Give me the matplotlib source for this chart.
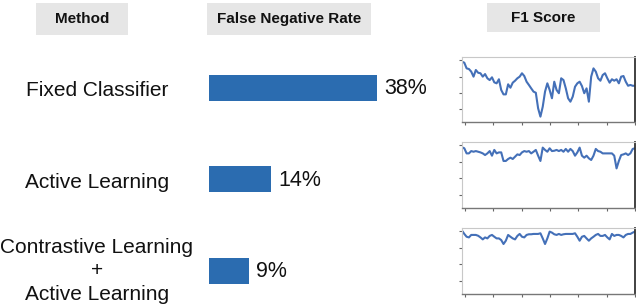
import numpy as np
import matplotlib
matplotlib.use("Agg")
import matplotlib.pyplot as plt
import matplotlib.transforms as mtransforms
from matplotlib.patches import Rectangle

plt.rcParams['font.family'] = ['Liberation Sans', 'DejaVu Sans']

W, H = 636, 306

# data
methods = ["Fixed Classifier", "Active Learning", "Contrastive Learning\n+\nActive Learning"]
fnr = [38, 14, 9]
headers = ["Method", "False Negative Rate", "F1 Score"]

f1_fixed = [0.971, 0.965, 0.930, 0.926, 0.910, 0.879, 0.920, 0.903, 0.900, 0.879,
            0.895, 0.869, 0.858, 0.875, 0.844, 0.838, 0.863, 0.797, 0.770, 0.770,
            0.832, 0.811, 0.842, 0.854, 0.869, 0.879, 0.900, 0.883, 0.848, 0.828,
            0.807, 0.787, 0.780, 0.684, 0.633, 0.694, 0.787, 0.838, 0.797, 0.746,
            0.848, 0.797, 0.777, 0.869, 0.858, 0.807, 0.746, 0.725, 0.756, 0.817,
            0.838, 0.848, 0.821, 0.777, 0.807, 0.725, 0.879, 0.930, 0.910, 0.869,
            0.854, 0.889, 0.900, 0.869, 0.842, 0.863, 0.854, 0.863, 0.838, 0.879,
            0.883, 0.848, 0.823, 0.828, 0.823, 0.823]
f1_active = [0.968, 0.962, 0.931, 0.931, 0.945, 0.941, 0.945, 0.941, 0.937, 0.931,
             0.921, 0.931, 0.945, 0.917, 0.952, 0.931, 0.937, 0.937, 0.885, 0.885,
             0.897, 0.905, 0.897, 0.911, 0.925, 0.921, 0.937, 0.945, 0.941, 0.945,
             0.931, 0.941, 0.952, 0.917, 0.885, 0.966, 0.952, 0.941, 0.962, 0.945,
             0.947, 0.952, 0.945, 0.952, 0.941, 0.958, 0.941, 0.958, 0.945, 0.917,
             0.937, 0.966, 0.917, 0.905, 0.917, 0.901, 0.891, 0.917, 0.958, 0.945,
             0.941, 0.931, 0.931, 0.931, 0.931, 0.931, 0.917, 0.840, 0.885, 0.921,
             0.925, 0.931, 0.921, 0.931, 0.958, 0.962]
f1_contrastive = [0.984, 0.964, 0.947, 0.943, 0.958, 0.958, 0.958, 0.953, 0.943, 0.931,
                  0.943, 0.937, 0.952, 0.958, 0.947, 0.937, 0.937, 0.927, 0.903, 0.923,
                  0.958, 0.947, 0.937, 0.931, 0.952, 0.964, 0.947, 0.943, 0.958, 0.962,
                  0.962, 0.964, 0.964, 0.964, 0.968, 0.937, 0.903, 0.937, 0.978, 0.972,
                  0.962, 0.958, 0.964, 0.958, 0.962, 0.964, 0.964, 0.964, 0.964, 0.968,
                  0.947, 0.923, 0.947, 0.952, 0.937, 0.923, 0.937, 0.947, 0.958, 0.964,
                  0.952, 0.952, 0.958, 0.943, 0.931, 0.964, 0.952, 0.958, 0.958, 0.952,
                  0.943, 0.958, 0.964, 0.964, 0.972, 0.978]
f1_series = [f1_fixed, f1_active, f1_contrastive]

bar_color = '#2b6cb0'
line_color = '#4470b8'
box_color = '#e6e6e6'

fig = plt.figure(figsize=(W / 100, H / 100), dpi=100)


def rect(x0, y0, x1, y1):
    # pixel box (top-left origin) -> figure fraction rect
    return [x0 / W, 1 - y1 / H, (x1 - x0) / W, (y1 - y0) / H]


# header boxes
header_boxes = [(36, 3, 128, 35), (207, 3, 371, 35), (487, 3, 600, 32)]
for name, (x0, y0, x1, y1) in zip(headers, header_boxes):
    r = rect(x0, y0, x1, y1)
    fig.patches.append(Rectangle((r[0], r[1]), r[2], r[3], transform=fig.transFigure,
                                 facecolor=box_color, edgecolor='none', zorder=0))
    fig.text(r[0] + r[2] / 2, r[1] + r[3] / 2, name, ha='center', va='center',
             fontsize=11, fontweight='bold', color='#111111')

# bar panel
px_per_unit = 4.42
xmax = 52
ax = fig.add_axes(rect(209, 42.25, 209 + xmax * px_per_unit, 306))
ax.set_xlim(0, xmax)
ax.set_ylim(2.383, -0.5)
ax.barh(range(len(fnr)), fnr, height=0.284, color=bar_color)
for i, v in enumerate(fnr):
    ax.text(v + 1.6, i + 0.01, f"{v}%", ha='left', va='center', fontsize=15.5, color='#111111')
ax.axis('off')

# method labels, aligned with bar rows
trans = mtransforms.blended_transform_factory(fig.transFigure, ax.transData)
for i, m in enumerate(methods):
    dy = 0.03 if i < 2 else 0.0
    ax.text(97 / W, i + dy, m, transform=trans, ha='center', va='center',
            fontsize=15, linespacing=1.32, color='#111111')

# F1 score mini panels
panel_boxes = [(462, 57, 635, 122), (462, 142, 635, 208), (462, 228, 635, 294)]
for vals, (x0, y0, x1, y1) in zip(f1_series, panel_boxes):
    a = fig.add_axes(rect(x0, y0, x1, y1))
    x = np.arange(len(vals))
    a.plot(x, vals, color=line_color, lw=1.5)
    n = len(vals) - 1
    a.set_xlim(0, n)
    a.set_ylim(0.6, 1.0)
    a.set_xticks(np.linspace(0.017 * n, n, 7))
    a.set_yticks([0.68, 0.78, 0.88, 0.98])
    a.set_xticklabels([])
    a.set_yticklabels([])
    a.tick_params(axis='x', length=2.5, width=0.8, color='#666666', direction='out')
    a.tick_params(axis='y', length=2, width=0.8, color='#666666', direction='out')
    for s in ['top', 'left']:
        a.spines[s].set_color('#c8c8c8')
        a.spines[s].set_linewidth(0.8)
    a.spines['bottom'].set_color('#777777')
    a.spines['bottom'].set_linewidth(1.0)
    a.spines['right'].set_color('#333333')
    a.spines['right'].set_linewidth(1.3)

fig.savefig('out.png', dpi=100)
